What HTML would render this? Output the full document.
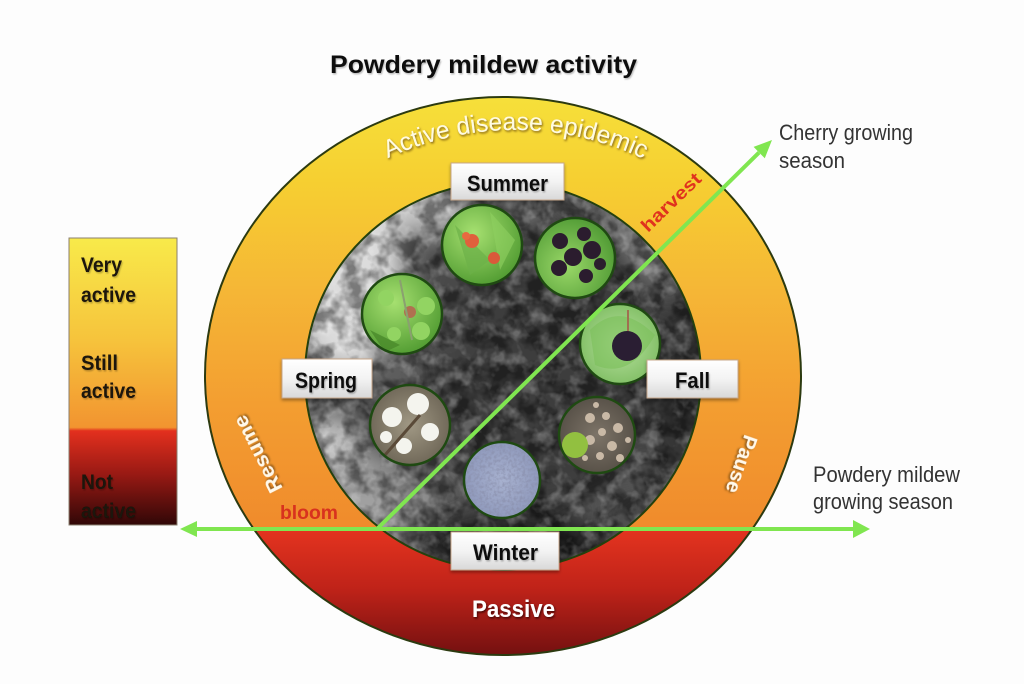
<!DOCTYPE html>
<html>
<head>
<meta charset="utf-8">
<style>
  html, body { margin: 0; padding: 0; background: #fdfdfd; }
  svg { display: block; }
  text { font-family: "Liberation Sans", "DejaVu Sans", sans-serif; }
</style>
</head>
<body>
<svg width="1024" height="684" viewBox="0 0 1024 684" xmlns="http://www.w3.org/2000/svg">
  <defs>
    <linearGradient id="ring" gradientUnits="userSpaceOnUse" x1="0" y1="97" x2="0" y2="655">
      <stop offset="0" stop-color="#f6e03a"/>
      <stop offset="0.15" stop-color="#f6cf31"/>
      <stop offset="0.35" stop-color="#f5b636"/>
      <stop offset="0.55" stop-color="#f39e31"/>
      <stop offset="0.772" stop-color="#f08b2c"/>
      <stop offset="0.774" stop-color="#e4341f"/>
      <stop offset="0.88" stop-color="#c02319"/>
      <stop offset="1" stop-color="#741010"/>
    </linearGradient>
    <linearGradient id="legend" gradientUnits="userSpaceOnUse" x1="0" y1="238" x2="0" y2="525">
      <stop offset="0" stop-color="#f8ea4a"/>
      <stop offset="0.35" stop-color="#f6c43c"/>
      <stop offset="0.66" stop-color="#f29430"/>
      <stop offset="0.672" stop-color="#e3301e"/>
      <stop offset="0.82" stop-color="#9a1a14"/>
      <stop offset="1" stop-color="#300707"/>
    </linearGradient>
    <linearGradient id="box" x1="0" y1="0" x2="0" y2="1">
      <stop offset="0" stop-color="#ffffff"/>
      <stop offset="0.5" stop-color="#f3f3f3"/>
      <stop offset="1" stop-color="#d8d8d8"/>
    </linearGradient>
    <radialGradient id="g1" cx="0.4" cy="0.35" r="0.7">
      <stop offset="0" stop-color="#a6e070"/>
      <stop offset="1" stop-color="#4f9a30"/>
    </radialGradient>
    <radialGradient id="g2" cx="0.4" cy="0.6" r="0.7">
      <stop offset="0" stop-color="#9ad868"/>
      <stop offset="1" stop-color="#4a9530"/>
    </radialGradient>
    <radialGradient id="g3" cx="0.5" cy="0.5" r="0.7">
      <stop offset="0" stop-color="#b9e2a0"/>
      <stop offset="1" stop-color="#6fb352"/>
    </radialGradient>
    <radialGradient id="g5" cx="0.5" cy="0.5" r="0.7">
      <stop offset="0" stop-color="#a09884"/>
      <stop offset="1" stop-color="#5e5648"/>
    </radialGradient>
    <radialGradient id="g6" cx="0.5" cy="0.5" r="0.7">
      <stop offset="0" stop-color="#7d7468"/>
      <stop offset="1" stop-color="#4a443c"/>
    </radialGradient>
    <radialGradient id="g7" cx="0.5" cy="0.5" r="0.7">
      <stop offset="0" stop-color="#a8b2d0"/>
      <stop offset="1" stop-color="#8690b4"/>
    </radialGradient>
    <clipPath id="inner"><ellipse cx="503" cy="376" rx="198" ry="194"/></clipPath>
    <clipPath id="c7c"><circle cx="502" cy="480" r="38"/></clipPath>
    <clipPath id="c6c"><circle cx="597" cy="435" r="38"/></clipPath>
    <filter id="blur12" x="-50%" y="-50%" width="200%" height="200%"><feGaussianBlur stdDeviation="12"/></filter>
    <filter id="blur3" x="-50%" y="-50%" width="200%" height="200%"><feGaussianBlur stdDeviation="2.5"/></filter>
    <filter id="darkspk" x="0" y="0" width="100%" height="100%">
      <feTurbulence type="fractalNoise" baseFrequency="0.055" numOctaves="3" seed="7"/>
      <feColorMatrix type="matrix" values="0 0 0 0 0  0 0 0 0 0  0 0 0 0 0  3.4 0 0 0 -1.3"/>
    </filter>
    <filter id="lightspk" x="0" y="0" width="100%" height="100%">
      <feTurbulence type="fractalNoise" baseFrequency="0.065" numOctaves="3" seed="21"/>
      <feColorMatrix type="matrix" values="0 0 0 0 1  0 0 0 0 1  0 0 0 0 1  3.4 0 0 0 -1.6"/>
    </filter>
    <filter id="bluespk" x="0" y="0" width="100%" height="100%">
      <feTurbulence type="fractalNoise" baseFrequency="0.35" numOctaves="2" seed="4"/>
      <feColorMatrix type="matrix" values="0 0 0 0 0.25  0 0 0 0 0.27  0 0 0 0 0.4  3 0 0 0 -1.2"/>
    </filter>
    <filter id="shw" x="-20%" y="-40%" width="140%" height="180%">
      <feDropShadow dx="1" dy="1.5" stdDeviation="1" flood-color="#5a3a10" flood-opacity="0.75"/>
    </filter>
    <filter id="shwDark" x="-20%" y="-40%" width="140%" height="180%">
      <feDropShadow dx="1" dy="1.5" stdDeviation="1" flood-color="#2a0000" flood-opacity="0.8"/>
    </filter>
    <filter id="boxshw" x="-20%" y="-30%" width="140%" height="170%">
      <feDropShadow dx="0" dy="2" stdDeviation="1.5" flood-color="#000" flood-opacity="0.35"/>
    </filter>
    <filter id="txtshw" x="-10%" y="-30%" width="120%" height="160%">
      <feDropShadow dx="1" dy="1.5" stdDeviation="0.8" flood-color="#000" flood-opacity="0.25"/>
    </filter>
    <path id="arcTop" d="M 385 159.6 A 300 300 0 0 1 648 161.1"/>
  </defs>

  <!-- background -->
  <rect x="0" y="0" width="1024" height="684" fill="#fdfdfd"/>

  <!-- Title -->
  <text x="330" y="73" font-size="25" font-weight="bold" fill="#111" textLength="307" lengthAdjust="spacingAndGlyphs" filter="url(#txtshw)">Powdery mildew activity</text>

  <!-- Legend -->
  <rect x="69" y="238" width="108" height="287" fill="url(#legend)" stroke="#8a8070" stroke-width="1"/>
  <g font-size="21" font-weight="bold" fill="#1a1208" filter="url(#txtshw)">
    <text x="81" y="272" textLength="41" lengthAdjust="spacingAndGlyphs">Very</text>
    <text x="81" y="302" textLength="55" lengthAdjust="spacingAndGlyphs">active</text>
    <text x="81" y="370" textLength="37" lengthAdjust="spacingAndGlyphs">Still</text>
    <text x="81" y="398" textLength="55" lengthAdjust="spacingAndGlyphs">active</text>
    <text x="81" y="489" textLength="32" lengthAdjust="spacingAndGlyphs">Not</text>
    <text x="81" y="518" textLength="55" lengthAdjust="spacingAndGlyphs">active</text>
  </g>

  <!-- Outer ring -->
  <ellipse cx="503" cy="376" rx="298" ry="279" fill="url(#ring)" stroke="#2c3a10" stroke-width="2"/>

  <!-- Inner photo (tree) -->
  <g clip-path="url(#inner)">
    <rect x="300" y="178" width="410" height="400" fill="#5c5c5c"/>
    <g filter="url(#blur12)">
      <ellipse cx="345" cy="268" rx="58" ry="105" fill="#dcdcdc"/>
      <ellipse cx="420" cy="205" rx="52" ry="26" fill="#cbcbcb"/>
      <ellipse cx="520" cy="215" rx="20" ry="14" fill="#a8a8a8"/>
      <ellipse cx="655" cy="235" rx="28" ry="38" fill="#858585"/>
      <ellipse cx="545" cy="360" rx="118" ry="148" fill="#3c3c3c"/>
      <ellipse cx="685" cy="400" rx="40" ry="110" fill="#363636"/>
      <ellipse cx="350" cy="505" rx="65" ry="52" fill="#a0a0a0"/>
      <ellipse cx="330" cy="440" rx="30" ry="25" fill="#c0c0c0"/>
      <ellipse cx="515" cy="545" rx="95" ry="38" fill="#262626"/>
      <ellipse cx="650" cy="520" rx="50" ry="40" fill="#4e4e4e"/>
      <ellipse cx="445" cy="300" rx="28" ry="60" fill="#4a4a4a"/>
    </g>
    <!-- field stripes bottom left -->
    <g stroke="#7a7a7a" stroke-width="3" opacity="0.6" filter="url(#blur3)">
      <line x1="305" y1="470" x2="420" y2="472"/>
      <line x1="305" y1="490" x2="420" y2="492"/>
      <line x1="305" y1="512" x2="420" y2="514"/>
    </g>
    <rect x="300" y="178" width="410" height="400" filter="url(#darkspk)" opacity="0.45"/>
    <rect x="300" y="178" width="410" height="400" filter="url(#lightspk)" opacity="0.25"/>
  </g>
  <ellipse cx="503" cy="376" rx="198" ry="194" fill="none" stroke="#24400e" stroke-width="2"/>

  <!-- Small photo circles -->
  <!-- 1 red cherries -->
  <circle cx="482" cy="245" r="40" fill="url(#g1)"/>
  <path d="M455 225 L490 260 L470 275 Z" fill="#6cb048" opacity="0.7"/>
  <path d="M490 212 L515 240 L500 270 Z" fill="#8fd060" opacity="0.6"/>
  <circle cx="472" cy="241" r="7" fill="#e0603c"/>
  <circle cx="466" cy="236" r="4" fill="#e86a40"/>
  <circle cx="494" cy="258" r="6" fill="#d95a3a"/>
  <circle cx="482" cy="245" r="40" fill="none" stroke="#1f4a12" stroke-width="2.5"/>
  <!-- 2 dark cherries -->
  <circle cx="575" cy="258" r="40" fill="url(#g2)"/>
  <g fill="#2b1c2e">
    <circle cx="560" cy="241" r="8"/>
    <circle cx="584" cy="234" r="7"/>
    <circle cx="592" cy="250" r="9"/>
    <circle cx="573" cy="257" r="9"/>
    <circle cx="559" cy="268" r="8"/>
    <circle cx="586" cy="276" r="7"/>
    <circle cx="600" cy="264" r="6"/>
  </g>
  <circle cx="575" cy="258" r="40" fill="none" stroke="#1f4a12" stroke-width="2.5"/>
  <!-- 3 green cherries -->
  <circle cx="402" cy="314" r="40" fill="url(#g1)"/>
  <path d="M370 330 L400 345 L385 352 Z" fill="#4a8a2a" opacity="0.8"/>
  <g fill="#92d462">
    <circle cx="386" cy="298" r="8"/>
    <circle cx="426" cy="306" r="9"/>
    <circle cx="421" cy="331" r="9"/>
    <circle cx="394" cy="334" r="7"/>
  </g>
  <circle cx="410" cy="312" r="6" fill="#b07050"/>
  <line x1="400" y1="280" x2="412" y2="340" stroke="#8aa070" stroke-width="2"/>
  <circle cx="402" cy="314" r="40" fill="none" stroke="#1f4a12" stroke-width="2.5"/>
  <!-- 4 single dark cherry -->
  <circle cx="620" cy="344" r="40" fill="url(#g3)"/>
  <path d="M590 330 Q620 300 655 335 Q630 380 595 365 Z" fill="#7cc05a" opacity="0.6"/>
  <line x1="628" y1="310" x2="628" y2="332" stroke="#a07050" stroke-width="2"/>
  <circle cx="627" cy="346" r="15" fill="#2a1e33"/>
  <circle cx="620" cy="344" r="40" fill="none" stroke="#1f4a12" stroke-width="2.5"/>
  <!-- 5 blossoms -->
  <circle cx="410" cy="425" r="40" fill="url(#g5)"/>
  <g fill="#f4f4ee">
    <circle cx="392" cy="417" r="10"/>
    <circle cx="418" cy="404" r="11"/>
    <circle cx="430" cy="432" r="9"/>
    <circle cx="404" cy="446" r="8"/>
    <circle cx="386" cy="437" r="6"/>
  </g>
  <line x1="385" y1="455" x2="420" y2="415" stroke="#5a4a38" stroke-width="3"/>
  <circle cx="410" cy="425" r="40" fill="none" stroke="#1f4a12" stroke-width="2.5"/>
  <!-- 6 debris -->
  <circle cx="597" cy="435" r="38" fill="url(#g6)"/>
  <g clip-path="url(#c6c)">
    <g fill="#c9b9a6">
      <circle cx="590" cy="418" r="5"/><circle cx="606" cy="416" r="4"/><circle cx="618" cy="428" r="5"/>
      <circle cx="602" cy="432" r="4"/><circle cx="590" cy="440" r="5"/><circle cx="612" cy="446" r="5"/>
      <circle cx="600" cy="456" r="4"/><circle cx="620" cy="458" r="4"/><circle cx="585" cy="458" r="3"/>
      <circle cx="628" cy="440" r="3"/><circle cx="596" cy="405" r="3"/>
    </g>
    <circle cx="575" cy="445" r="13" fill="#92c040"/>
  </g>
  <circle cx="597" cy="435" r="38" fill="none" stroke="#1f4a12" stroke-width="2.5"/>
  <!-- 7 blue mildew -->
  <circle cx="502" cy="480" r="38" fill="url(#g7)"/>
  <g clip-path="url(#c7c)">
    <rect x="460" y="440" width="85" height="80" filter="url(#bluespk)" opacity="0.6"/>
  </g>
  <circle cx="502" cy="480" r="38" fill="none" stroke="#1f4a12" stroke-width="2.5"/>

  <!-- Ring texts -->
  <text font-size="25" fill="#fffbe2" filter="url(#shw)"><textPath href="#arcTop" startOffset="3" textLength="264" lengthAdjust="spacingAndGlyphs">Active disease epidemic</textPath></text>
  <text x="264" y="451" font-size="20" font-weight="bold" fill="#fff8ea" text-anchor="middle" textLength="84" lengthAdjust="spacingAndGlyphs" transform="rotate(-117 264 451)" filter="url(#shw)">Resume</text>
  <text x="735" y="462" font-size="20" font-weight="bold" fill="#fff8ea" text-anchor="middle" textLength="60" lengthAdjust="spacingAndGlyphs" transform="rotate(109 735 462)" filter="url(#shw)">Pause</text>
  <text x="648" y="233" font-size="18" font-weight="bold" fill="#e0321e" textLength="76" lengthAdjust="spacingAndGlyphs" transform="rotate(-44 648 233)">harvest</text>
  <text x="280" y="519" font-size="19" font-weight="bold" fill="#d8321e" textLength="58" lengthAdjust="spacingAndGlyphs">bloom</text>
  <text x="472" y="617" font-size="24" font-weight="bold" fill="#ffffff" textLength="83" lengthAdjust="spacingAndGlyphs" filter="url(#shwDark)">Passive</text>

  <!-- Green arrows -->
  <g stroke="#80e650" stroke-width="4" fill="none" stroke-linecap="butt">
    <line x1="194" y1="529" x2="856" y2="529"/>
    <line x1="377" y1="529" x2="759" y2="152.6"/>
  </g>
  <g fill="#80e650">
    <polygon points="180,529 197,521 197,537"/>
    <polygon points="870,529 853,520 853,538"/>
    <polygon points="772,140 764.8,158.3 753.6,146.9"/>
  </g>

  <!-- Season boxes -->
  <g stroke="#c8a78a" stroke-width="1" fill="url(#box)" filter="url(#boxshw)">
    <rect x="451" y="163" width="113" height="37"/>
    <rect x="282" y="359" width="90" height="39"/>
    <rect x="647" y="360" width="91" height="38"/>
    <rect x="451" y="532" width="108" height="38"/>
  </g>
  <g font-size="22" font-weight="bold" fill="#111" filter="url(#txtshw)">
    <text x="467" y="191" textLength="81" lengthAdjust="spacingAndGlyphs">Summer</text>
    <text x="295" y="388" textLength="62" lengthAdjust="spacingAndGlyphs">Spring</text>
    <text x="675" y="388" textLength="35" lengthAdjust="spacingAndGlyphs">Fall</text>
    <text x="473" y="560" textLength="65" lengthAdjust="spacingAndGlyphs">Winter</text>
  </g>

  <!-- Right labels -->
  <g font-size="22" fill="#333">
    <text x="779" y="140" textLength="134" lengthAdjust="spacingAndGlyphs">Cherry growing</text>
    <text x="779" y="168" textLength="66" lengthAdjust="spacingAndGlyphs">season</text>
    <text x="813" y="482" textLength="147" lengthAdjust="spacingAndGlyphs">Powdery mildew</text>
    <text x="813" y="509" textLength="140" lengthAdjust="spacingAndGlyphs">growing season</text>
  </g>
</svg>
</body>
</html>
